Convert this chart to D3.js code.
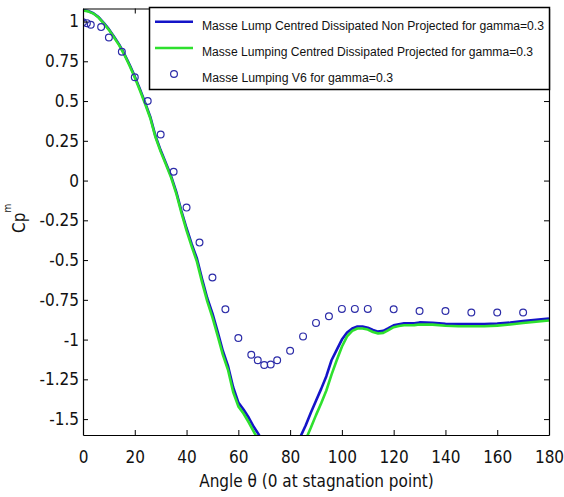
<!DOCTYPE html>
<html>
<head>
<meta charset="utf-8">
<script src="https://cdn.jsdelivr.net/npm/d3@7"></script>
<style>
  html, body { margin: 0; padding: 0; background: #fff; }
  svg { display: block; }
</style>
</head>
<body>
<svg id="chart" width="564" height="497"></svg>
<script>
// ---------- DATA ----------
const seriesNames = [
  "Masse Lump Centred Dissipated Non Projected for gamma=0.3",
  "Masse Lumping Centred Dissipated Projected for gamma=0.3",
  "Masse Lumping V6 for gamma=0.3"
];

const lineAngles = [0,2,4,6,8,10,12,14,16,18,20,22,24,26,28,30,32,34,36,38,40,42,44,46,48,50,52,54,56,58,60,62,64,66,68,70,72,74,76,78,80,82,84,86,88,90,92,94,96,98,100,102,104,106,108,110,112,114,116,118,120,122,124,126,128,130,135,140,145,150,155,160,165,170,175,180];

const blueValues = [1.072,1.066,1.052,1.028,0.992,0.952,0.905,0.855,0.795,0.728,0.655,0.575,0.490,0.400,0.280,0.190,0.110,0.030,-0.070,-0.190,-0.300,-0.400,-0.490,-0.620,-0.740,-0.835,-0.950,-1.070,-1.165,-1.300,-1.395,-1.440,-1.490,-1.550,-1.600,-1.660,-1.710,-1.750,-1.770,-1.760,-1.720,-1.670,-1.610,-1.540,-1.460,-1.385,-1.310,-1.230,-1.130,-1.065,-1.000,-0.955,-0.930,-0.918,-0.918,-0.925,-0.940,-0.950,-0.945,-0.928,-0.910,-0.903,-0.898,-0.898,-0.897,-0.892,-0.894,-0.900,-0.903,-0.903,-0.903,-0.899,-0.893,-0.884,-0.876,-0.868];

const greenValues = [1.070,1.064,1.050,1.025,0.988,0.948,0.900,0.850,0.790,0.722,0.648,0.567,0.482,0.392,0.272,0.182,0.102,0.020,-0.080,-0.202,-0.315,-0.415,-0.510,-0.640,-0.760,-0.860,-0.975,-1.095,-1.190,-1.330,-1.420,-1.465,-1.520,-1.580,-1.640,-1.690,-1.740,-1.780,-1.800,-1.800,-1.780,-1.740,-1.690,-1.630,-1.555,-1.475,-1.400,-1.320,-1.220,-1.130,-1.045,-0.980,-0.945,-0.930,-0.930,-0.937,-0.952,-0.962,-0.958,-0.940,-0.922,-0.915,-0.910,-0.910,-0.909,-0.905,-0.906,-0.913,-0.916,-0.916,-0.916,-0.912,-0.905,-0.896,-0.888,-0.880];

const v6Angles = [0,1.5,3,7,10,15,20,25,30,35,40,45,50,55,60,65,67.5,70,72.5,75,80,85,90,95,100,105,110,120,130,140,150,160,170];
const v6Values = [0.995,0.99,0.98,0.965,0.90,0.81,0.65,0.50,0.29,0.055,-0.17,-0.39,-0.61,-0.81,-0.99,-1.095,-1.13,-1.16,-1.157,-1.13,-1.07,-0.98,-0.895,-0.853,-0.807,-0.807,-0.807,-0.81,-0.82,-0.82,-0.83,-0.83,-0.83];

const xTicks = [0,20,40,60,80,100,120,140,160,180];
const xTickLabels = ["0","20","40","60","80","100","120","140","160","180"];
const yTicks = [1,0.75,0.5,0.25,0,-0.25,-0.5,-0.75,-1,-1.25,-1.5];
const yTickLabels = ["1","0.75","0.5","0.25","0","-0.25","-0.5","-0.75","-1","-1.25","-1.5"];

const xLabel = "Angle \u03b8 (0 at stagnation point)";
const yLabelMain = "Cp";
const yLabelSub = "m";

// ---------- LAYOUT ----------
const L = 83, R = 549, T = 8.5, B = 435;
const svg = d3.select("#chart");
const x = d3.scaleLinear().domain([0, 180]).range([L, R]);
const y = d3.scaleLinear().domain([-1.6, 1.082]).range([B, T]);

const tickFont = "'Liberation Sans Narrow', 'DejaVu Sans Condensed', 'Liberation Sans', sans-serif";
const blue = "#1414c8";
const green = "#2ee02e";
const circ = "#2c2ca8";

svg.append("rect").attr("width", 564).attr("height", 497).attr("fill", "#fff");

svg.append("defs").append("clipPath").attr("id", "clip")
  .append("rect").attr("x", L).attr("y", T).attr("width", R - L).attr("height", B - T);

const plot = svg.append("g").attr("clip-path", "url(#clip)");

const line = d3.line().x(d => x(d[0])).y(d => y(d[1]));
const blueData = lineAngles.map((a, i) => [a, blueValues[i]]);
const greenData = lineAngles.map((a, i) => [a, greenValues[i]]);

plot.append("path").datum(blueData).attr("d", line)
  .attr("fill", "none").attr("stroke", blue).attr("stroke-width", 2.6).attr("stroke-linejoin", "round");
plot.append("path").datum(greenData).attr("d", line)
  .attr("fill", "none").attr("stroke", green).attr("stroke-width", 2.6).attr("stroke-linejoin", "round");

plot.selectAll("circle.v6").data(v6Angles.map((a, i) => [a, v6Values[i]]))
  .enter().append("circle").attr("class", "v6")
  .attr("cx", d => x(d[0])).attr("cy", d => y(d[1])).attr("r", 3.4)
  .attr("fill", "none").attr("stroke", circ).attr("stroke-width", 1.2);

// ---------- AXES ----------
const xAxis = svg.append("g").attr("transform", `translate(0,${B})`)
  .call(d3.axisBottom(x).tickValues(xTicks).tickFormat((d, i) => xTickLabels[i])
    .tickSizeInner(-5).tickSizeOuter(0).tickPadding(16));
const xTop = svg.append("g").attr("transform", `translate(0,${T})`)
  .call(d3.axisTop(x).tickValues(xTicks).tickFormat("").tickSizeInner(-5).tickSizeOuter(0));
const yAxis = svg.append("g").attr("transform", `translate(${L},0)`)
  .call(d3.axisLeft(y).tickValues(yTicks).tickFormat((d, i) => yTickLabels[i])
    .tickSizeInner(-5).tickSizeOuter(0).tickPadding(4));
const yRight = svg.append("g").attr("transform", `translate(${R},0)`)
  .call(d3.axisRight(y).tickValues(yTicks).tickFormat("").tickSizeInner(-5).tickSizeOuter(0));

[xAxis, xTop, yAxis, yRight].forEach(g => {
  g.selectAll("path.domain").attr("stroke", "#000").attr("stroke-width", 1.2);
  g.selectAll(".tick line").attr("stroke", "#000").attr("stroke-width", 1);
  g.selectAll("text").attr("font-family", tickFont).attr("font-size", 17).attr("fill", "#111");
});

// ---------- LABELS ----------
svg.append("text").attr("x", 316.5).attr("y", 487).attr("text-anchor", "middle")
  .attr("font-family", tickFont).attr("font-size", 17).attr("fill", "#111").text(xLabel);

const yl = svg.append("text").attr("transform", "translate(25,233) rotate(-90)")
  .attr("font-family", tickFont).attr("font-size", 17).attr("fill", "#111");
yl.append("tspan").text(yLabelMain);
yl.append("tspan").attr("dy", -14).attr("font-size", 10).text(yLabelSub);

// ---------- LEGEND ----------
const leg = svg.append("g");
leg.append("rect").attr("x", 149.5).attr("y", 7.5).attr("width", 400).attr("height", 82)
  .attr("fill", "#fff").attr("stroke", "#000").attr("stroke-width", 1.5);
const rowsY = [21.7, 48, 74];
const textBase = [29.5, 56, 82];
const textLen = [342, 331, 191];
leg.append("line").attr("x1", 155).attr("x2", 193).attr("y1", rowsY[0]).attr("y2", rowsY[0])
  .attr("stroke", blue).attr("stroke-width", 2.6);
leg.append("line").attr("x1", 155).attr("x2", 193).attr("y1", rowsY[1]).attr("y2", rowsY[1])
  .attr("stroke", green).attr("stroke-width", 2.6);
leg.append("circle").attr("cx", 174).attr("cy", rowsY[2]).attr("r", 3.4)
  .attr("fill", "none").attr("stroke", circ).attr("stroke-width", 1.2);
seriesNames.forEach((n, i) => {
  leg.append("text").attr("x", 202).attr("y", textBase[i])
    .attr("font-family", "'Liberation Sans', Arial, sans-serif").attr("font-size", 12.5)
    .attr("fill", "#111").attr("textLength", textLen[i]).attr("lengthAdjust", "spacingAndGlyphs")
    .text(n);
});
</script>
</body>
</html>
